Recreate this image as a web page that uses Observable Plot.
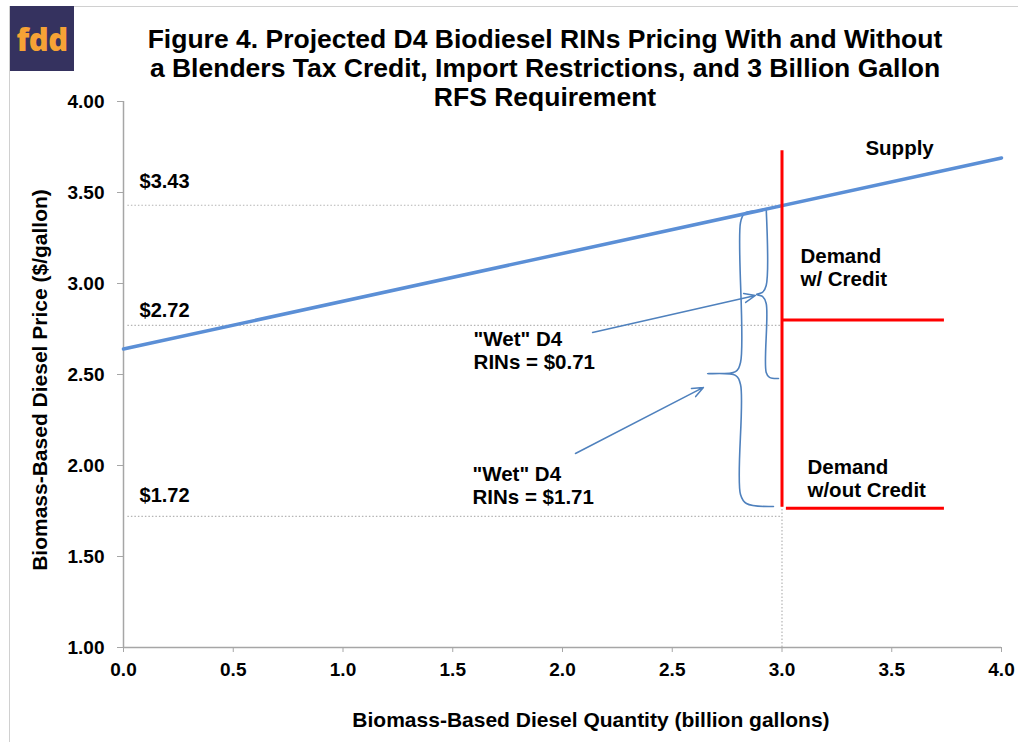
<!DOCTYPE html>
<html>
<head>
<meta charset="utf-8">
<script src="https://cdn.jsdelivr.net/npm/d3@7"></script>
<script src="https://cdn.jsdelivr.net/npm/@observablehq/plot@0.6"></script>
<style>
  html, body { margin: 0; padding: 0; background: #ffffff; }
  #wrap { position: relative; width: 1018px; height: 742px; overflow: hidden; font-family: "Liberation Sans", Arial, sans-serif; }
  #frameTop { position: absolute; left: 10px; top: 6px; width: 1008px; height: 0; border-top: 1.5px solid #d0d0d0; }
  #frameLeft { position: absolute; left: 9px; top: 6px; width: 0; height: 736px; border-left: 1.5px solid #d0d0d0; }
  #logo { position: absolute; left: 10px; top: 6px; width: 64px; height: 65px; background: #35325f; color: #f6a235;
          font-family: "Open Sans", "DejaVu Sans", sans-serif; font-weight: 800; font-size: 31px; line-height: 66px; text-align: center; letter-spacing: -0.5px; }
  #title { position: absolute; left: 120px; width: 850px; top: 25px; text-align: center; font-weight: bold; font-size: 26.5px; line-height: 29px; color: #000; white-space: nowrap; }
  #xtitle { position: absolute; left: 291px; width: 600px; top: 708px; text-align: center; font-weight: bold; font-size: 21px; line-height: 24px; color: #000; white-space: nowrap; }
  #ytitle { position: absolute; left: 40px; top: 380px; width: 500px; margin-left: -250px; margin-top: -12px; text-align: center; font-weight: bold; font-size: 21px; line-height: 24px; color: #000; white-space: nowrap; transform: rotate(-90deg); }
  #chart { position: absolute; left: 0; top: 0; }
</style>
</head>
<body>
<div id="wrap">
  <div id="frameTop"></div>
  <div id="frameLeft"></div>
  <div id="chart"></div>
  <div id="logo">fdd</div>
  <div id="title"></div>
  <div id="xtitle"></div>
  <div id="ytitle"></div>
</div>
<script>
// ---- data ----
const titleLines = [
  "Figure 4. Projected D4 Biodiesel RINs Pricing With and Without",
  "a Blenders Tax Credit, Import Restrictions, and 3 Billion Gallon",
  "RFS Requirement"
];
const xTitle = "Biomass-Based Diesel Quantity (billion gallons)";
const yTitle = "Biomass-Based Diesel Price ($/gallon)";
const xTicks = [0, 0.5, 1, 1.5, 2, 2.5, 3, 3.5, 4];
const yTicks = [1, 1.5, 2, 2.5, 3, 3.5, 4];

// supply curve
const supplyQty = [0, 4];
const supplyPrice = [2.64, 3.69];

// demand (RFS requirement 3 bil gal)
const demandQty = 3.0;
const demandTop = 3.73;
const demandBottom = 1.77;
const demandEndQty = 3.74;
const priceWithCredit = 2.80;
const priceWithoutCredit = 1.765;

// reference price levels
const priceLevels = [3.43, 2.77, 1.72];
const priceLabels = ["$3.43", "$2.72", "$1.72"];
const priceLabelQty = [0.073, 0.073, 0.073];
const priceLabelY = [3.56, 2.85, 1.835];

// text annotations
const noteText = ["Supply", "Demand\nw/ Credit", "Demand\nw/out Credit", "\"Wet\" D4\nRINs = $0.71", "\"Wet\" D4\nRINs = $1.71"];
const noteQty = [3.38, 3.084, 3.116, 1.595, 1.59];
const notePrice = [3.749, 3.091, 1.929, 2.635, 1.893];

// arrows (from label to brace)
const arrowQ1 = [2.137, 2.059];
const arrowP1 = [2.731, 2.066];
const arrowQ2 = [2.879, 2.642];
const arrowP2 = [2.934, 2.429];

// braces
const bigBraceQ = [2.88, 2.829, 2.811, 2.811, 2.788, 2.661, 2.788, 2.811, 2.811, 2.838, 2.961];
const bigBraceP = [3.40, 3.385, 3.335, 2.566, 2.516, 2.505, 2.495, 2.445, 1.841, 1.791, 1.775];
const smallBraceQ = [2.928, 2.928, 2.911, 2.884, 2.911, 2.928, 2.928, 2.943, 2.984];
const smallBraceP = [3.412, 2.989, 2.951, 2.940, 2.929, 2.890, 2.511, 2.484, 2.478];

// ---- build ----
document.getElementById("title").innerHTML = titleLines.join("<br>");
document.getElementById("xtitle").textContent = xTitle;
document.getElementById("ytitle").textContent = yTitle;

const supply = supplyQty.map((q, i) => ({q, p: supplyPrice[i]}));
const levels = priceLevels.map((p, i) => ({p, label: priceLabels[i], lq: priceLabelQty[i], lp: priceLabelY[i]}));
const notes = noteText.map((t, i) => ({t, q: noteQty[i], p: notePrice[i]}));
const arrows = arrowQ1.map((q, i) => ({q1: q, p1: arrowP1[i], q2: arrowQ2[i], p2: arrowP2[i]}));
const bigBrace = bigBraceQ.map((q, i) => ({q, p: bigBraceP[i]}));
const smallBrace = smallBraceQ.map((q, i) => ({q, p: smallBraceP[i]}));

const grey = "#a6a6a6";
const blue = "#4f81bd";

const chart = Plot.plot({
  width: 1018,
  height: 742,
  marginTop: 101,
  marginBottom: 95,
  marginLeft: 123,
  marginRight: 17,
  x: {domain: [0, 4]},
  y: {domain: [1, 4]},
  style: {fontFamily: "'Liberation Sans', Arial, sans-serif", fontSize: "19px", fontWeight: "bold", background: "transparent", overflow: "visible"},
  marks: [
    // dotted reference lines
    Plot.ruleY(levels, {y: "p", x1: 0.02, x2: demandQty, stroke: "#b4b4b4", strokeWidth: 1.2, strokeDasharray: "1.5,2"}),
    Plot.ruleX([demandQty], {y1: 1, y2: priceLevels[0], stroke: "#b4b4b4", strokeWidth: 1.2, strokeDasharray: "1.5,2"}),
    // axes
    Plot.ruleX([0], {y1: 1, y2: 4, stroke: grey, strokeWidth: 1.5}),
    Plot.ruleY([1], {x1: 0, x2: 4, stroke: grey, strokeWidth: 1.5}),
    Plot.axisY({ticks: yTicks, tickFormat: d3.format(".2f"), tickSize: 6, tickPadding: 13, stroke: grey, fill: "black", label: null, fontSize: 19}),
    Plot.axisX({ticks: xTicks, tickFormat: d3.format(".1f"), tickSize: 5, tickPadding: 10, stroke: grey, fill: "black", label: null, fontSize: 19}),
    // braces and arrows
    Plot.line(bigBrace, {x: "q", y: "p", stroke: blue, strokeWidth: 1.6, curve: "catmull-rom"}),
    Plot.line(smallBrace, {x: "q", y: "p", stroke: blue, strokeWidth: 1.6, curve: "catmull-rom"}),
    Plot.arrow(arrows, {x1: "q1", y1: "p1", x2: "q2", y2: "p2", stroke: blue, strokeWidth: 1.5, headLength: 12, headAngle: 45}),
    // supply
    Plot.line(supply, {x: "q", y: "p", stroke: "#5b8fd6", strokeWidth: 3.5}),
    // demand
    Plot.ruleX([demandQty], {y1: demandBottom, y2: demandTop, stroke: "#ff0000", strokeWidth: 3}),
    Plot.ruleY([priceWithCredit], {x1: demandQty, x2: demandEndQty, stroke: "#ff0000", strokeWidth: 3}),
    Plot.ruleY([priceWithoutCredit], {x1: demandQty + 0.02, x2: demandEndQty, stroke: "#ff0000", strokeWidth: 3}),
    // labels
    Plot.text(levels, {x: "lq", y: "lp", text: "label", textAnchor: "start", fontSize: 20, fontWeight: "bold", fill: "black"}),
    Plot.text(notes, {x: "q", y: "p", text: "t", textAnchor: "start", fontSize: 20.5, fontWeight: "bold", fill: "black", lineHeight: 1.13})
  ]
});
document.getElementById("chart").appendChild(chart);
</script>
</body>
</html>
